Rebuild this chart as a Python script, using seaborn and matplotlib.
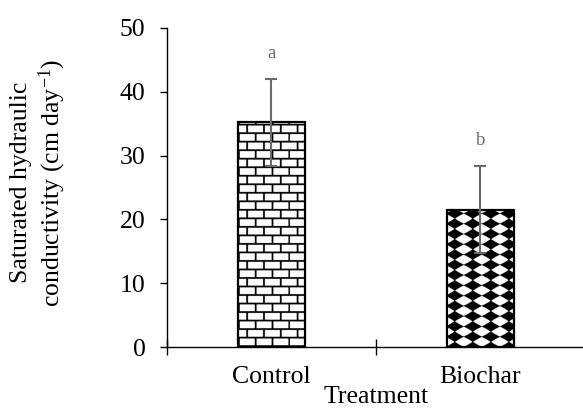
import numpy as np
import pandas as pd
import seaborn as sns
import matplotlib.pyplot as plt
from matplotlib.ticker import MultipleLocator, FixedLocator

# values
treatments = ["Control", "Biochar"]
means = [35.2, 21.5]
errors = [6.8, 6.8]
letters = ["a", "b"]

df = pd.DataFrame({"Treatment": treatments, "Ksat": means})

sns.set_style("white")
plt.rcParams["font.family"] = ["Liberation Serif", "DejaVu Serif"]
plt.rcParams["mathtext.fontset"] = "custom"
plt.rcParams["mathtext.rm"] = "Liberation Serif"
plt.rcParams["mathtext.it"] = "Liberation Serif:italic"
plt.rcParams["text.color"] = "black"
plt.rcParams["axes.labelcolor"] = "black"
plt.rcParams["xtick.color"] = "black"
plt.rcParams["ytick.color"] = "black"

fig = plt.figure(figsize=(5.83, 4.08), dpi=100)
ax = fig.add_axes([0.2864, 0.1495, 0.717, 0.782])

sns.barplot(data=df, x="Treatment", y="Ksat", color="white", edgecolor="black",
            linewidth=1.6, width=0.32, saturation=1, ax=ax, zorder=2)
ax.set_xlim(-0.5, 1.5)
ax.set_ylim(0, 50)

# pixel scale of the data axes, used to size the fill textures
p0 = ax.transData.transform((0, 0))
p1 = ax.transData.transform((1, 1))
sx, sy = p1[0] - p0[0], p1[1] - p0[1]


def bricks(u, v, w):
    bw, bh, lw = w / 4, 8.5, 1.7
    row = np.floor(v / bh)
    fu = (u + (row % 2) * bw / 2) % bw
    fv = v % bh
    return (fu < lw) | (fv < lw)


def diamonds(u, v, w):
    dx, dy, u0 = 18.0, 10.2, 7.7
    cu = ((u - u0 + dx / 2) % dx) - dx / 2
    cv = ((v + dy / 2) % dy) - dy / 2
    return (np.abs(cu) / (dx / 2 * 1.06)) ** 0.9 + (np.abs(cv) / (dy / 2 * 1.06)) ** 0.9 <= 1


fills = [bricks, diamonds]
for patch, fill in zip(ax.patches, fills):
    x0, w, h = patch.get_x(), patch.get_width(), patch.get_height()
    wpx, hpx = w * sx, h * sy
    res = 4
    u = (np.arange(int(wpx * res)) + 0.5) / res
    v = (np.arange(int(hpx * res)) + 0.5) / res
    U, V = np.meshgrid(u, v)
    tex = fill(U, V, wpx).astype(float)
    im = ax.imshow(tex, cmap="gray_r", vmin=0, vmax=1, extent=(x0, x0 + w, 0, h),
                   origin="lower", aspect="auto", interpolation="antialiased", zorder=2.5)
    im.set_clip_path(patch)
    patch.set_facecolor("none")
    patch.set_zorder(3)

ax.set_xlim(-0.5, 1.5)
ax.set_ylim(0, 50)

xs = [p.get_x() + p.get_width() / 2 for p in ax.patches]
ax.errorbar(xs, means, yerr=errors, fmt="none", ecolor="#6a6a6a", elinewidth=1.5,
            capsize=4.3, capthick=1.5, zorder=4)
for x, m, e, t in zip(xs, means, errors, letters):
    ax.text(x, m + e + 3.3, t, ha="center", va="baseline", color="#6a6a6a", fontsize=13.5)

sns.despine(ax=ax)
for s in ["left", "bottom"]:
    ax.spines[s].set_color("black")
    ax.spines[s].set_linewidth(1.0)

ax.yaxis.set_major_locator(MultipleLocator(10))
ax.tick_params(axis="y", direction="out", length=5, width=1, color="black",
               labelsize=18.5, labelcolor="black", pad=10.5, left=True)
ax.xaxis.set_minor_locator(FixedLocator([-0.5, 0.5, 1.5]))
ax.tick_params(axis="x", which="major", length=0, labelsize=18.5, labelcolor="black", pad=14)
ax.tick_params(axis="x", which="minor", direction="inout", length=11, width=1,
               color="black", bottom=True)

ax.set_xlabel("Treatment", fontsize=18.5, color="black")
ax.xaxis.set_label_coords(0.5, -0.122)
ax.set_ylabel("Saturated hydraulic\nconductivity (cm day$^{-1}$)", fontsize=18.5,
              va="center", linespacing=1.2, color="black")
ax.yaxis.set_label_coords(-0.306, 0.515)

fig.savefig("out.png", dpi=100, facecolor="w")
